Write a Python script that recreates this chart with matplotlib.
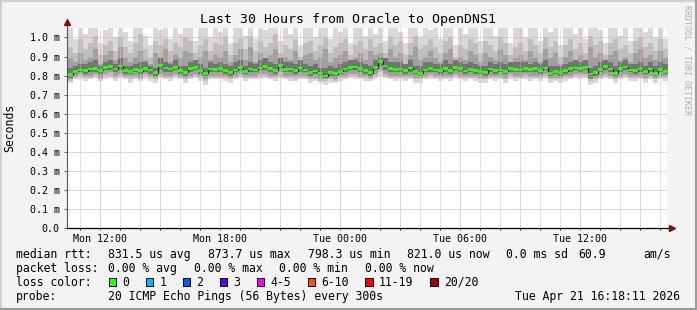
import numpy as np
import matplotlib
matplotlib.use("Agg")
import matplotlib.pyplot as plt
from matplotlib.patches import Rectangle

plt.rcParams['font.family'] = ['DejaVu Sans Mono']

W, H = 697, 310

# time axis: one sample every 15 minutes, hours since Mon 00:00
start_hour = 10.40
step_hours = 0.25
axis_start, axis_end = 10.37, 40.37

# median rtt in ms (drawn as "m" on the y axis)
median = [
    0.805, 0.822, 0.830, 0.826, 0.834, 0.838, 0.828, 0.842, 0.846, 0.835,
    0.850, 0.826, 0.822, 0.833, 0.825, 0.838, 0.829, 0.816, 0.852, 0.840,
    0.834, 0.843, 0.826, 0.818, 0.836, 0.841, 0.828, 0.812, 0.835, 0.831,
    0.838, 0.826, 0.815, 0.830, 0.842, 0.822, 0.835, 0.830, 0.840, 0.848,
    0.836, 0.828, 0.852, 0.832, 0.835, 0.826, 0.840, 0.830, 0.818, 0.824,
    0.812, 0.798, 0.815, 0.810, 0.822, 0.835, 0.842, 0.845, 0.838, 0.826,
    0.815, 0.842, 0.874, 0.850, 0.838, 0.832, 0.834, 0.828, 0.840, 0.820,
    0.812, 0.830, 0.836, 0.830, 0.826, 0.838, 0.828, 0.842, 0.836, 0.824,
    0.832, 0.826, 0.820, 0.816, 0.834, 0.826, 0.830, 0.822, 0.836, 0.832,
    0.830, 0.838, 0.832, 0.836, 0.828, 0.840, 0.812, 0.820, 0.818, 0.826,
    0.836, 0.840, 0.838, 0.842, 0.808, 0.815, 0.832, 0.846, 0.835, 0.812,
    0.838, 0.845, 0.830, 0.826, 0.834, 0.820, 0.835, 0.812, 0.832, 0.821,
]

# smoke bands (outer = lightest), upper and lower edges in ms
top1 = [
    1.06, 0.99, 1.06, 1.02, 1.06, 1.06, 0.97, 1.04, 1.06, 1.00, 1.06, 1.03, 0.98, 1.06, 1.06,
    1.01, 0.96, 1.06, 1.04, 1.06, 0.99, 1.06, 1.02, 1.06, 1.06, 0.98, 1.05, 1.06, 1.00, 1.06,
    1.03, 1.06, 0.97, 1.06, 1.06, 1.01, 1.06, 0.99, 1.06, 1.04, 1.06, 1.06, 0.98, 1.06, 1.02,
    1.06, 0.96, 1.06, 1.05, 1.00, 1.06, 1.06, 0.99, 1.06, 1.03, 1.06, 0.97, 1.06, 1.06, 1.01,
    1.06, 1.02, 1.06, 0.98, 1.06, 1.06, 1.03, 0.97, 1.06, 1.06, 1.00, 1.06, 1.04, 1.06, 0.99,
    1.06, 1.06, 0.96, 1.06, 1.02, 1.06, 1.06, 0.98, 1.06, 1.05, 1.01, 1.06, 1.06, 0.97, 1.06,
    1.06, 1.00, 1.06, 1.06, 0.98, 1.06, 1.03, 1.06, 0.96, 1.06, 1.06, 1.02, 1.06, 0.99, 1.06,
    1.06, 1.04, 0.97, 1.06, 1.06, 1.01, 1.06, 0.98, 1.06, 1.06, 1.03, 1.06, 1.00, 1.06, 0.99,
]
top2 = [
    0.95, 0.92, 0.99, 0.94, 0.97, 1.01, 0.91, 0.96, 0.98, 0.93, 1.00, 0.95, 0.92, 0.97, 1.02,
    0.94, 0.90, 0.98, 0.96, 0.99, 0.93, 0.97, 0.95, 1.00, 0.98, 0.92, 0.96, 0.99, 0.93, 0.97,
    0.96, 1.00, 0.91, 0.97, 0.99, 0.94, 1.01, 0.93, 0.98, 0.95, 0.97, 1.02, 0.92, 0.96, 0.94,
    0.99, 0.90, 0.97, 0.98, 0.93, 0.96, 1.00, 0.92, 0.95, 0.97, 0.99, 0.91, 0.96, 0.98, 0.94,
    0.99, 0.95, 0.97, 0.92, 1.00, 0.96, 0.98, 0.91, 0.97, 1.01, 0.94, 0.96, 0.99, 0.95, 0.92,
    0.98, 1.00, 0.90, 0.96, 0.94, 0.99, 0.97, 0.92, 0.98, 0.96, 0.93, 1.00, 0.97, 0.91, 0.95,
    0.97, 0.93, 0.99, 0.96, 0.92, 1.00, 0.95, 0.98, 0.90, 0.96, 0.99, 0.94, 0.97, 0.92, 1.01,
    0.96, 0.98, 0.91, 0.97, 0.99, 0.94, 0.96, 0.92, 0.98, 1.00, 0.95, 0.97, 0.93, 0.99, 0.94,
]
top3 = [
    0.89, 0.87, 0.92, 0.88, 0.90, 0.94, 0.86, 0.91, 0.93, 0.88, 0.95, 0.89, 0.87, 0.90, 0.93,
    0.88, 0.86, 0.92, 0.90, 0.94, 0.87, 0.91, 0.89, 0.93, 0.92, 0.87, 0.90, 0.93, 0.88, 0.91,
    0.90, 0.93, 0.87, 0.91, 0.94, 0.88, 0.95, 0.87, 0.92, 0.89, 0.91, 0.94, 0.86, 0.90, 0.88,
    0.93, 0.86, 0.91, 0.92, 0.88, 0.90, 0.94, 0.87, 0.89, 0.91, 0.93, 0.86, 0.90, 0.92, 0.88,
    0.93, 0.91, 0.92, 0.87, 0.94, 0.90, 0.92, 0.86, 0.91, 0.95, 0.88, 0.90, 0.93, 0.89, 0.87,
    0.92, 0.94, 0.86, 0.90, 0.88, 0.93, 0.91, 0.87, 0.92, 0.90, 0.88, 0.94, 0.91, 0.86, 0.89,
    0.91, 0.88, 0.93, 0.90, 0.87, 0.94, 0.89, 0.92, 0.86, 0.90, 0.93, 0.88, 0.91, 0.87, 0.95,
    0.90, 0.92, 0.86, 0.91, 0.93, 0.88, 0.90, 0.87, 0.92, 0.94, 0.89, 0.91, 0.88, 0.93, 0.89,
]
top4 = [
    0.84, 0.85, 0.86, 0.86, 0.87, 0.88, 0.85, 0.87, 0.88, 0.86, 0.89, 0.85, 0.85, 0.86, 0.87,
    0.87, 0.85, 0.84, 0.89, 0.87, 0.86, 0.88, 0.85, 0.85, 0.87, 0.88, 0.86, 0.84, 0.87, 0.86,
    0.87, 0.86, 0.85, 0.87, 0.88, 0.85, 0.87, 0.86, 0.88, 0.89, 0.87, 0.86, 0.89, 0.87, 0.87,
    0.86, 0.88, 0.86, 0.85, 0.86, 0.84, 0.84, 0.85, 0.84, 0.86, 0.87, 0.88, 0.88, 0.87, 0.86,
    0.85, 0.88, 0.90, 0.89, 0.87, 0.87, 0.87, 0.86, 0.88, 0.85, 0.85, 0.87, 0.87, 0.86, 0.86,
    0.88, 0.86, 0.88, 0.87, 0.86, 0.87, 0.86, 0.85, 0.85, 0.87, 0.86, 0.87, 0.86, 0.87, 0.87,
    0.87, 0.87, 0.86, 0.87, 0.86, 0.88, 0.85, 0.85, 0.85, 0.86, 0.87, 0.88, 0.87, 0.88, 0.84,
    0.85, 0.87, 0.88, 0.87, 0.85, 0.87, 0.88, 0.86, 0.86, 0.87, 0.85, 0.87, 0.85, 0.87, 0.86,
]
bot4 = [
    0.79, 0.81, 0.82, 0.81, 0.82, 0.82, 0.81, 0.83, 0.83, 0.82, 0.83, 0.81, 0.81, 0.82, 0.81,
    0.82, 0.81, 0.80, 0.83, 0.82, 0.82, 0.83, 0.81, 0.80, 0.82, 0.83, 0.81, 0.80, 0.82, 0.82,
    0.82, 0.81, 0.80, 0.82, 0.83, 0.81, 0.82, 0.82, 0.83, 0.83, 0.82, 0.81, 0.84, 0.82, 0.82,
    0.81, 0.82, 0.82, 0.80, 0.81, 0.80, 0.79, 0.80, 0.80, 0.81, 0.82, 0.83, 0.83, 0.82, 0.81,
    0.80, 0.83, 0.85, 0.83, 0.82, 0.82, 0.82, 0.81, 0.82, 0.81, 0.80, 0.82, 0.82, 0.82, 0.81,
    0.82, 0.81, 0.83, 0.82, 0.81, 0.82, 0.81, 0.81, 0.80, 0.82, 0.81, 0.82, 0.81, 0.82, 0.82,
    0.82, 0.82, 0.82, 0.82, 0.81, 0.83, 0.80, 0.81, 0.80, 0.81, 0.82, 0.83, 0.82, 0.83, 0.79,
    0.80, 0.82, 0.83, 0.82, 0.80, 0.82, 0.83, 0.82, 0.81, 0.82, 0.81, 0.82, 0.80, 0.82, 0.81,
]
bot3 = [
    0.78, 0.80, 0.81, 0.80, 0.80, 0.81, 0.79, 0.81, 0.82, 0.80, 0.81, 0.80, 0.80, 0.80, 0.79,
    0.81, 0.80, 0.79, 0.81, 0.80, 0.80, 0.81, 0.80, 0.79, 0.80, 0.81, 0.80, 0.78, 0.80, 0.80,
    0.80, 0.80, 0.79, 0.80, 0.81, 0.80, 0.80, 0.80, 0.81, 0.81, 0.80, 0.80, 0.82, 0.80, 0.80,
    0.80, 0.80, 0.80, 0.79, 0.79, 0.78, 0.78, 0.79, 0.78, 0.80, 0.80, 0.81, 0.81, 0.80, 0.80,
    0.79, 0.81, 0.83, 0.81, 0.80, 0.80, 0.80, 0.80, 0.80, 0.79, 0.79, 0.80, 0.81, 0.80, 0.80,
    0.80, 0.80, 0.81, 0.80, 0.80, 0.80, 0.80, 0.79, 0.79, 0.80, 0.80, 0.80, 0.79, 0.81, 0.80,
    0.80, 0.81, 0.80, 0.80, 0.80, 0.81, 0.79, 0.79, 0.79, 0.80, 0.80, 0.81, 0.81, 0.81, 0.78,
    0.79, 0.80, 0.81, 0.80, 0.79, 0.80, 0.81, 0.80, 0.80, 0.80, 0.79, 0.80, 0.79, 0.80, 0.80,
]
bot2 = [
    0.77, 0.79, 0.80, 0.79, 0.79, 0.80, 0.78, 0.80, 0.80, 0.79, 0.80, 0.79, 0.78, 0.79, 0.78,
    0.80, 0.79, 0.78, 0.80, 0.79, 0.79, 0.80, 0.79, 0.78, 0.79, 0.80, 0.79, 0.77, 0.79, 0.79,
    0.79, 0.79, 0.78, 0.79, 0.80, 0.79, 0.79, 0.79, 0.80, 0.80, 0.79, 0.79, 0.80, 0.79, 0.79,
    0.78, 0.79, 0.79, 0.78, 0.78, 0.77, 0.77, 0.78, 0.77, 0.79, 0.79, 0.80, 0.80, 0.79, 0.79,
    0.78, 0.80, 0.82, 0.80, 0.79, 0.79, 0.79, 0.79, 0.79, 0.78, 0.78, 0.79, 0.80, 0.79, 0.79,
    0.79, 0.79, 0.80, 0.79, 0.79, 0.79, 0.79, 0.78, 0.78, 0.79, 0.79, 0.79, 0.78, 0.80, 0.79,
    0.79, 0.80, 0.79, 0.79, 0.79, 0.80, 0.78, 0.78, 0.78, 0.79, 0.79, 0.80, 0.80, 0.80, 0.77,
    0.78, 0.79, 0.80, 0.79, 0.78, 0.79, 0.80, 0.79, 0.79, 0.79, 0.78, 0.79, 0.78, 0.79, 0.79,
]
bot1 = [
    0.76, 0.78, 0.78, 0.77, 0.78, 0.79, 0.77, 0.78, 0.79, 0.77, 0.79, 0.78, 0.76, 0.78, 0.77,
    0.78, 0.77, 0.76, 0.79, 0.78, 0.77, 0.79, 0.78, 0.76, 0.78, 0.79, 0.77, 0.75, 0.78, 0.78,
    0.78, 0.77, 0.76, 0.78, 0.79, 0.77, 0.78, 0.78, 0.78, 0.79, 0.78, 0.77, 0.79, 0.78, 0.77,
    0.77, 0.78, 0.78, 0.76, 0.77, 0.76, 0.75, 0.76, 0.76, 0.77, 0.78, 0.79, 0.78, 0.78, 0.77,
    0.77, 0.78, 0.80, 0.79, 0.78, 0.77, 0.78, 0.77, 0.78, 0.76, 0.76, 0.78, 0.78, 0.78, 0.77,
    0.78, 0.77, 0.79, 0.78, 0.77, 0.78, 0.77, 0.76, 0.76, 0.78, 0.77, 0.78, 0.76, 0.78, 0.77,
    0.78, 0.78, 0.77, 0.78, 0.77, 0.79, 0.76, 0.77, 0.76, 0.77, 0.78, 0.79, 0.78, 0.79, 0.75,
    0.76, 0.78, 0.79, 0.78, 0.76, 0.78, 0.79, 0.77, 0.77, 0.78, 0.76, 0.78, 0.76, 0.78, 0.77,
]
smoke_colors = ['#d9d9d9', '#bfbfbf', '#a0a0a0', '#747474']

x_ticks = [12, 18, 24, 30, 36]
x_labels = ['Mon 12:00', 'Mon 18:00', 'Tue 00:00', 'Tue 06:00', 'Tue 12:00']
y_ticks = [0.0, 0.1, 0.2, 0.3, 0.4, 0.5, 0.6, 0.7, 0.8, 0.9, 1.0]
y_labels = ['0.0', '0.1 m', '0.2 m', '0.3 m', '0.4 m', '0.5 m',
            '0.6 m', '0.7 m', '0.8 m', '0.9 m', '1.0 m']

title = 'Last 30 Hours from Oracle to OpenDNS1'
rtt_items = ['median rtt:', '831.5 us avg', '873.7 us max', '798.3 us min',
             '821.0 us now', '0.0 ms sd', '60.9', 'am/s']
rtt_x = [16, 107.5, 207.5, 307.5, 407, 506.5, 578, 643]
loss_items = ['packet loss:', '0.00 % avg', '0.00 % max', '0.00 % min', '0.00 % now']
loss_x = [16, 107.5, 194, 279, 365]
loss_labels = ['0', '1', '2', '3', '4-5', '6-10', '11-19', '20/20']
loss_colors = ['#26ff00', '#00b8ff', '#0059ff', '#5e00ff', '#ff00ff',
               '#ff5500', '#ff0000', '#a00000']
loss_box_x = [108.5, 145.5, 182.5, 219.5, 256.5, 307.5, 365, 430]
probe_text = '20 ICMP Echo Pings (56 Bytes) every 300s'
stamp = 'Tue Apr 21 16:18:11 2026'


def fx(x):
    return x / W


def fy(y):
    return 1 - y / H


fig = plt.figure(figsize=(W / 100, H / 100), dpi=100, facecolor='#f3f3f3')
ax = fig.add_axes([fx(67), fy(228.3), 600 / W, (228.3 - 27.5) / H])
ax.set_facecolor('white')

n = len(median)
t = start_hour + step_hours * np.arange(n + 1)


def ext(a):
    return np.append(a, a[-1])


tops = [top1, top2, top3, top4]
bots = [bot1, bot2, bot3, bot4]
for lo, hi, c in zip(bots, tops, smoke_colors):
    ax.fill_between(t, ext(lo), ext(hi), step='post', color=c, lw=0, zorder=1)

# grid on top of the smoke, like rrdtool
dot = (0, (1, 1))
for h in range(11, 41):
    col = '#eba3a3' if h % 3 == 0 else '#c8c8c8'
    ax.axvline(h, color=col, lw=0.72, ls=dot, zorder=2)
for v in y_ticks[1:]:
    ax.axhline(v, color='#eba3a3', lw=0.72, ls=dot, zorder=2)

med = ext(median)
ax.step(t, med, where='post', color='#202020', lw=0.8, zorder=3)
ax.fill_between(t, med - 0.007, med + 0.007, step='post', color='#26ff00', lw=0, zorder=4)

ax.set_xlim(axis_start, axis_end)
ax.set_ylim(0, 1.052)
ax.set_xticks(x_ticks)
ax.set_xticklabels(x_labels)
ax.set_xticks(range(11, 41), minor=True)
ax.set_yticks(y_ticks)
ax.set_yticklabels(y_labels)
ax.tick_params(axis='both', labelsize=7.2, colors='#444444', labelcolor='black')
ax.tick_params(axis='x', which='both', length=1.6, width=0.6, pad=2.6)
ax.tick_params(axis='y', length=2.2, width=0.6, pad=3.2)

for s in ['top', 'right', 'left', 'bottom']:
    ax.spines[s].set_visible(False)
ax.plot([0, 0], [0, 1.02], transform=ax.transAxes, color='#555555', lw=0.8,
        clip_on=False, zorder=5)
ax.plot([0, 1.004], [0, 0], transform=ax.transAxes, color='black', lw=0.9,
        clip_on=False, zorder=5)
ax.plot([0], [1.027], transform=ax.transAxes, marker='^', ms=4.5, color='#7f1010',
        clip_on=False, zorder=6)
ax.plot([1.008], [0], transform=ax.transAxes, marker='>', ms=4.5, color='#7f1010',
        clip_on=False, zorder=6)

fig.text(fx(348), fy(19), title, ha='center', va='center', fontsize=9.5)
fig.text(fx(10), fy(128), 'Seconds', ha='center', va='center', rotation=90, fontsize=8.3)
fig.text(fx(687.5), fy(60), 'RRDTOOL / TOBI OETIKER', ha='center', va='center',
         rotation=270, fontsize=6, color='#b0b0b0')

leg_size = 8.3
for s, x in zip(rtt_items, rtt_x):
    fig.text(fx(x), fy(254.3), s, ha='left', va='center', fontsize=leg_size)
for s, x in zip(loss_items, loss_x):
    fig.text(fx(x), fy(268.3), s, ha='left', va='center', fontsize=leg_size)
fig.text(fx(16), fy(282.3), 'loss color:', ha='left', va='center', fontsize=leg_size)
for lab, col, x in zip(loss_labels, loss_colors, loss_box_x):
    fig.patches.append(Rectangle((fx(x), fy(286.3)), 7.5 / W, 8 / H, transform=fig.transFigure,
                                 facecolor=col, edgecolor='black', lw=0.7))
    fig.text(fx(x + 14), fy(282.3), lab, ha='left', va='center', fontsize=leg_size)
fig.text(fx(16), fy(296.5), 'probe:', ha='left', va='center', fontsize=leg_size)
fig.text(fx(107.5), fy(296.5), probe_text, ha='left', va='center', fontsize=leg_size)
fig.text(fx(680), fy(296.5), stamp, ha='right', va='center', fontsize=leg_size)

# 3d-ish frame around the image
fig.patches.append(Rectangle((0, 0), 1, 1, transform=fig.transFigure, fill=False,
                             edgecolor='#cfcfcf', lw=2))
fig.lines.append(plt.Line2D([0, 1], [fy(308.5), fy(308.5)], transform=fig.transFigure,
                            color='#9c9c9c', lw=2.2))
fig.lines.append(plt.Line2D([fx(695.5), fx(695.5)], [0, 1], transform=fig.transFigure,
                            color='#9c9c9c', lw=2.2))

fig.savefig('out.png', dpi=100, facecolor=fig.get_facecolor())
